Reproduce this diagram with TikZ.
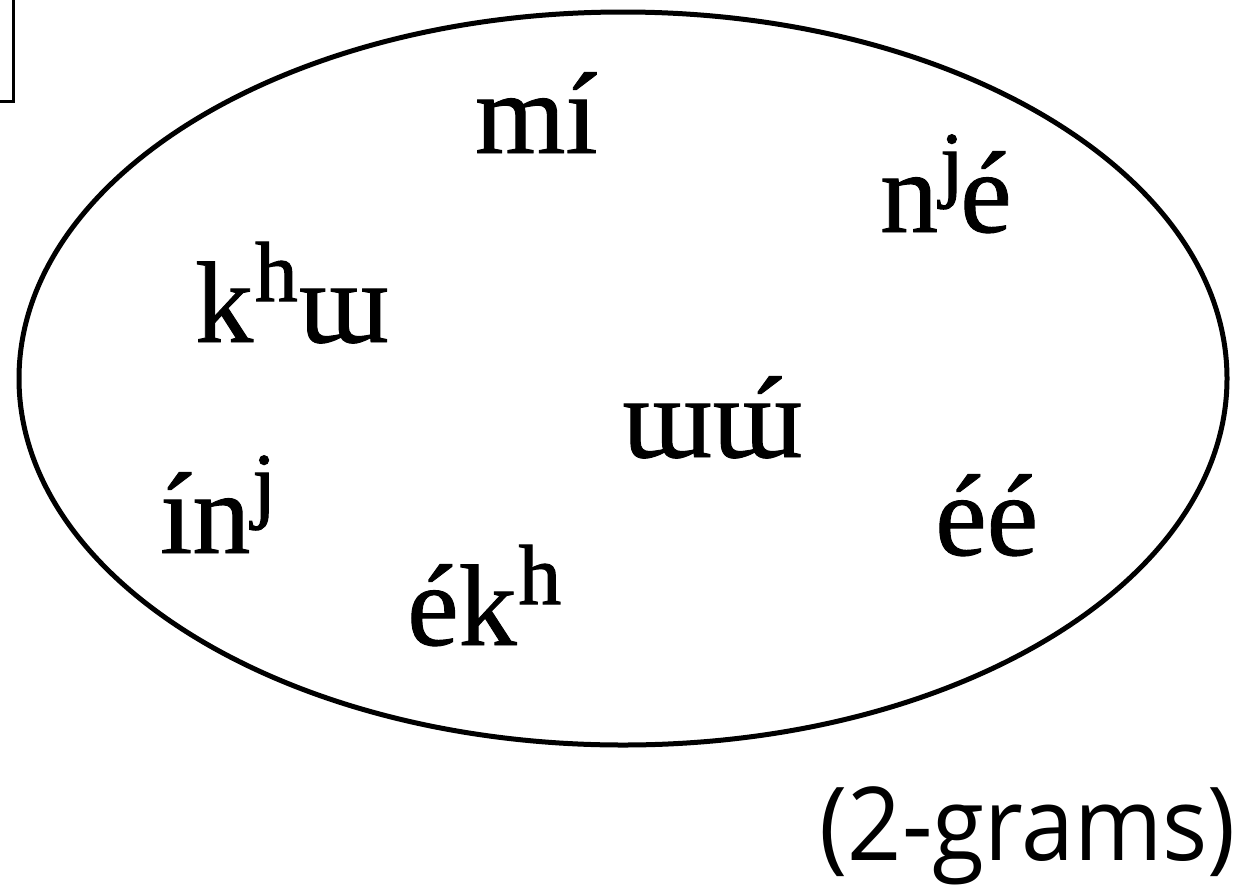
\documentclass[tikz,border=0pt]{standalone}
\usepackage{fontspec}
\usepackage{graphicx}
\usetikzlibrary{shapes.geometric}
\setmainfont{Liberation Serif}
\newfontfamily\gramfont{Liberation Serif}[FakeBold=0.8]
\newfontfamily\labelfont{Open Sans}
\newcommand\modl[1]{{\fontsize{142}{142}\selectfont\raisebox{2pt}{#1}}}
\newcommand\acuteover[1]{\ooalign{#1\cr\hidewidth\kern22pt\char"00B4\hidewidth\cr}}
\tikzset{
  gram/.style={anchor=base west, inner sep=0pt, font=\gramfont\fontsize{116}{120}\selectfont},
  caption/.style={anchor=base east, inner sep=0pt, font=\labelfont\fontsize{102}{110}\selectfont},
  outline/.style={draw=black, line width=5pt},
}
\begin{document}
\begin{tikzpicture}[x=1pt,y=-1pt]
\useasboundingbox (0,0) rectangle (1241,884);
% partial frame in corner
\draw[line width=3pt] (13.5,0) -- (13.5,101.5) -- (0,101.5);
% the set
\node[outline, ellipse, inner sep=0pt, outer sep=0pt, minimum width=1208pt, minimum height=733pt] (set) at (623,378.5) {};
% the 2-grams
\node[gram] (mi)   at (475,153) {mí};
\node[gram] (nje)  at (880,232) {n\modl{ʲ}é};
\node[gram] (khu)  at (195,342) {k\modl{ʰ}ɯ};
\node[gram] (uu)   at (622,457) {ɯ\acuteover{ɯ}};
\node[gram] (inj)  at (160,553) {ín\modl{ʲ}};
\node[gram] (ekh)  at (407,645) {ék\modl{ʰ}};
\node[gram] (ee)   at (935,555) {éé};
\node[caption] (cap) at (1236,860) {\scalebox{0.93}[1]{(2-grams)}};
\end{tikzpicture}
\end{document}
